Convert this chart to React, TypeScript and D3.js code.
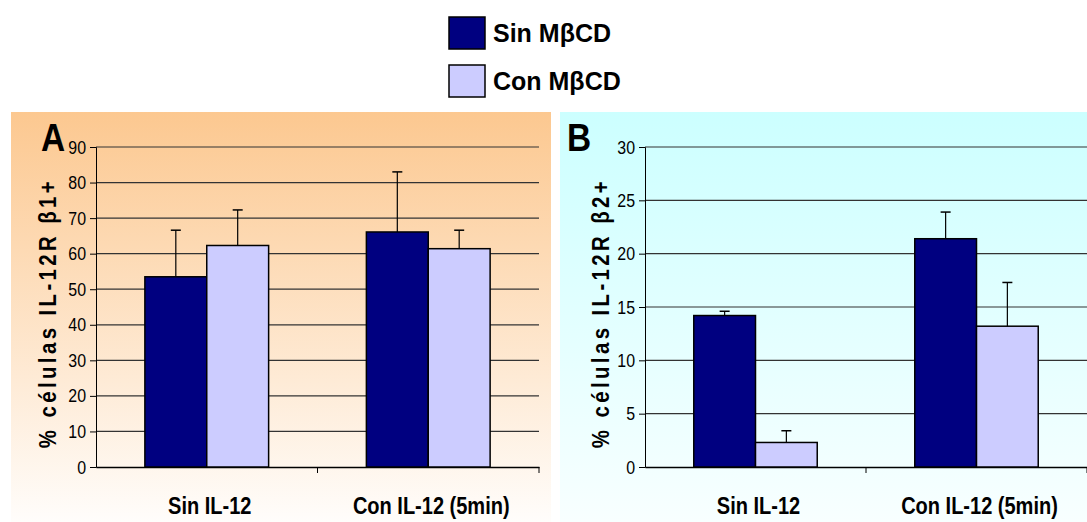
import React, { useEffect, useRef } from "react";
import * as d3 from "d3";

const categories = ["Sin IL-12", "Con IL-12 (5min)"];
const seriesNames = ["Sin MβCD", "Con MβCD"];
const colors = ["#000080", "#ccccff"];

// panel A: % células IL-12R β1+
const aSin = [53.5, 66.1];
const aCon = [62.3, 61.4];
const aSinErr = [13.1, 16.9];
const aConErr = [10.0, 5.2];
const aTicks = [0, 10, 20, 30, 40, 50, 60, 70, 80, 90];

// panel B: % células IL-12R β2+
const bSin = [14.2, 21.4];
const bCon = [2.3, 13.2];
const bSinErr = [0.4, 2.5];
const bConErr = [1.1, 4.1];
const bTicks = [0, 5, 10, 15, 20, 25, 30];

const sans = "'Liberation Sans', Arial, sans-serif";

const App = () => {
  const svgRef = useRef(null);

  useEffect(() => {
    const svg = d3.select(svgRef.current);
    svg.selectAll("*").remove();
    const defs = svg.append("defs");

    const grad = (id, top, bottom) => {
      const g = defs.append("linearGradient").attr("id", id)
        .attr("x1", 0).attr("y1", 0).attr("x2", 0).attr("y2", 1);
      g.append("stop").attr("offset", "0%").attr("stop-color", top);
      g.append("stop").attr("offset", "100%").attr("stop-color", bottom);
    };
    grad("gA", "#fcc890", "#fffdfb");
    grad("gB", "#ccffff", "#f8ffff");

    // legend
    seriesNames.forEach((name, i) => {
      const y = 17 + i * 48;
      svg.append("rect").attr("x", 449).attr("y", y).attr("width", 36).attr("height", 32)
        .attr("fill", colors[i]).attr("stroke", "#000").attr("stroke-width", 1.5);
      svg.append("text").attr("x", 493).attr("y", y + 25).text(name)
        .attr("font-family", sans).attr("font-weight", "bold").attr("font-size", 25);
    });

    const drawPanel = (opts) => {
      const { bgX, bgW, x0, x1, max, ticks, sin, con, sinErr, conErr, letter, letterX, titleX, title, gradId } = opts;
      svg.append("rect").attr("x", bgX).attr("y", 112).attr("width", bgW).attr("height", 410)
        .attr("fill", `url(#${gradId})`);

      const y = d3.scaleLinear().domain([0, max]).range([467, 147]);
      const x = d3.scaleBand().domain(categories).range([x0, x1]);
      const xs = d3.scaleBand().domain(seriesNames).range([0, x.bandwidth()]).paddingInner(0).paddingOuter(0.79);

      const g = svg.append("g");
      // gridlines
      g.selectAll(".grid").data(ticks.filter((t) => t > 0)).enter().append("line")
        .attr("x1", x0).attr("x2", x1).attr("y1", (d) => y(d)).attr("y2", (d) => y(d))
        .attr("stroke", "#333").attr("stroke-width", 1.2);

      const yAxis = g.append("g").attr("transform", `translate(${x0},0)`)
        .call(d3.axisLeft(y).tickValues(ticks).tickSize(6).tickPadding(4));
      yAxis.selectAll("text").attr("font-family", sans).attr("font-size", 19).attr("fill", "#000")
        .attr("x", -10 / 0.84).attr("transform", "scale(0.84,1)");
      yAxis.selectAll("line, path").attr("stroke", "#000");

      const xAxis = g.append("g").attr("transform", `translate(0,${y(0)})`)
        .call(d3.axisBottom(x).tickSize(0).tickFormat(() => ""));
      xAxis.select("path").attr("stroke", "#000").attr("stroke-width", 1.5);
      // category separators
      g.selectAll(".sep").data([x0 + x.bandwidth(), x1]).enter().append("line")
        .attr("x1", (d) => d).attr("x2", (d) => d).attr("y1", y(0)).attr("y2", y(0) + 6)
        .attr("stroke", "#000");
      g.selectAll(".cat").data(categories).enter().append("text")
        .attr("transform", (d) => `translate(${x(d) + x.bandwidth() / 2 + 3},514) scale(0.87,1)`)
        .attr("text-anchor", "middle").text((d) => d)
        .attr("font-family", sans).attr("font-weight", "bold").attr("font-size", 23);

      const rows = categories.map((c, i) => [
        { c, s: seriesNames[0], v: sin[i], e: sinErr[i], col: colors[0] },
        { c, s: seriesNames[1], v: con[i], e: conErr[i], col: colors[1] },
      ]).flat();

      g.selectAll(".bar").data(rows).enter().append("rect")
        .attr("x", (d) => x(d.c) + xs(d.s))
        .attr("y", (d) => y(d.v))
        .attr("width", xs.bandwidth())
        .attr("height", (d) => y(0) - y(d.v))
        .attr("fill", (d) => d.col).attr("stroke", "#000").attr("stroke-width", 1.5);

      const cx = (d) => x(d.c) + xs(d.s) + xs.bandwidth() / 2;
      g.selectAll(".err").data(rows).enter().append("line")
        .attr("x1", cx).attr("x2", cx)
        .attr("y1", (d) => y(d.v)).attr("y2", (d) => y(d.v + d.e))
        .attr("stroke", "#000").attr("stroke-width", 1.2);
      g.selectAll(".cap").data(rows).enter().append("line")
        .attr("x1", (d) => cx(d) - 5).attr("x2", (d) => cx(d) + 5)
        .attr("y1", (d) => y(d.v + d.e)).attr("y2", (d) => y(d.v + d.e))
        .attr("stroke", "#000").attr("stroke-width", 1.5);

      svg.append("text").attr("transform", `translate(${letterX},151) scale(0.88,1)`).text(letter)
        .attr("font-family", sans).attr("font-weight", "bold").attr("font-size", 38);

      svg.append("text")
        .attr("transform", `translate(${titleX},313) rotate(-90) scale(0.85,1)`)
        .attr("text-anchor", "middle").text(title)
        .attr("font-family", sans).attr("font-weight", "bold").attr("font-size", 24)
        .attr("letter-spacing", 4);
    };

    drawPanel({
      bgX: 11, bgW: 540, x0: 96, x1: 539, max: 90, ticks: aTicks,
      sin: aSin, con: aCon, sinErr: aSinErr, conErr: aConErr,
      letter: "A", letterX: 41, titleX: 56, title: "% células IL-12R β1+", gradId: "gA",
    });
    drawPanel({
      bgX: 560, bgW: 527, x0: 645, x1: 1087, max: 30, ticks: bTicks,
      sin: bSin, con: bCon, sinErr: bSinErr, conErr: bConErr,
      letter: "B", letterX: 567, titleX: 609, title: "% células IL-12R β2+", gradId: "gB",
    });
  }, []);

  return (
    <svg
      ref={svgRef}
      width={1087}
      height={522}
      style={{ position: "absolute", left: 0, top: 0, background: "#fff" }}
    ></svg>
  );
};

export default App;
